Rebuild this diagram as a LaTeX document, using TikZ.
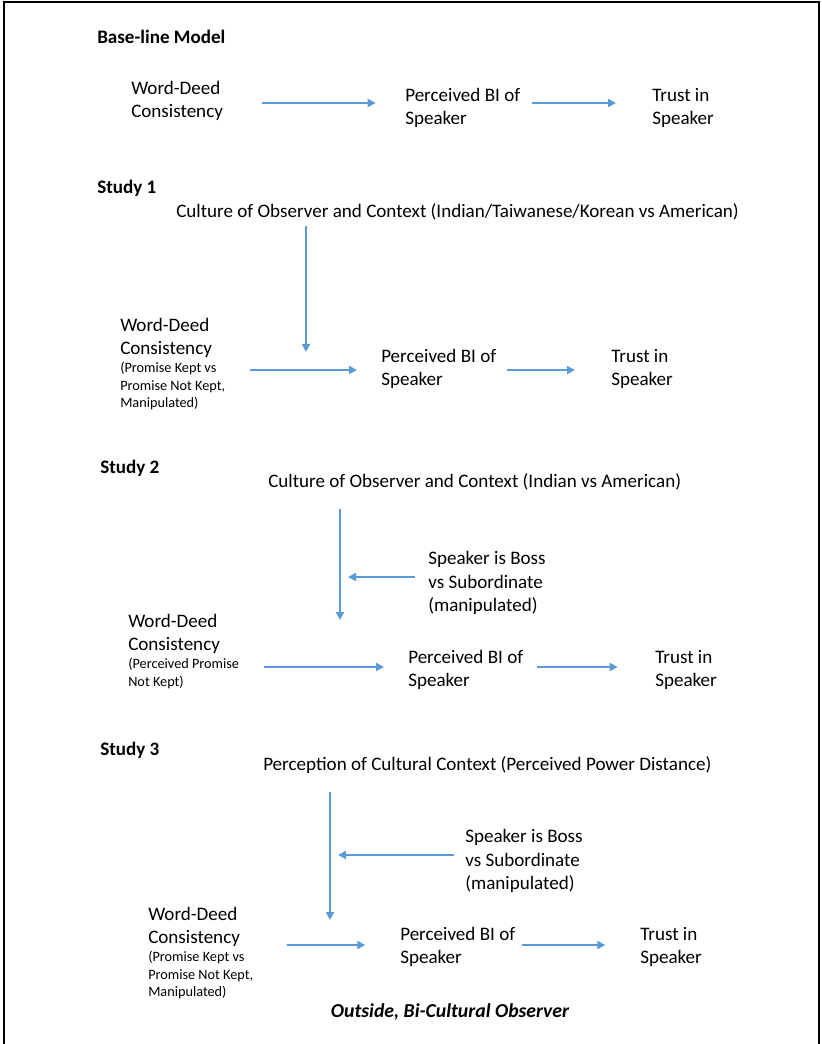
\documentclass[tikz,border=0pt]{standalone}
\usepackage{fontspec}
\setmainfont{Carlito}
\usetikzlibrary{arrows.meta,positioning}
\definecolor{arrblue}{RGB}{91,155,213}

\begin{document}
\begin{tikzpicture}[x=0.75pt, y=-0.75pt,
    lbl/.style={inner sep=0pt, anchor=west, align=left, font=\fontsize{14.3}{17.5}\selectfont},
    note/.style={inner sep=0pt, anchor=north west, align=left, font=\fontsize{10.7}{13.2}\selectfont},
    head/.style={inner sep=0pt, anchor=west, font=\bfseries\fontsize{14.3}{17}\selectfont},
    arr/.style={draw=arrblue, line width=1.6pt, -{Triangle[length=6pt,width=6pt]}}]

    \useasboundingbox (0,0) rectangle (821,1044);

    % Frame
    \draw[line width=1.5pt] (4,1044) -- (4,2) -- (819,2) -- (819,1044);

    % Base-line model
    \node[head] (base) at (97,37) {Base-line Model};
    \node[lbl] (wd0) at (131,101) {Word-Deed\\Consistency};
    \node[lbl] (pb0) at (405,108) {Perceived BI of\\Speaker};
    \node[lbl] (tr0) at (652,108) {Trust in\\Speaker};
    \coordinate (r0) at (0,103);
    \draw[arr, shorten <=29pt, shorten >=22pt] (wd0.east |- r0) -- (pb0.west |- r0);
    \draw[arr, shorten <=9pt, shorten >=27pt] (pb0.east |- r0) -- (tr0.west |- r0);

    % Study 1
    \node[head] (st1) at (97,188) {Study 1};
    \node[lbl] (cu1) at (176,212) {Culture of Observer and Context (Indian/Taiwanese/Korean vs American)};
    \node[lbl] (wd1) at (120,338) {Word-Deed\\Consistency};
    \node[note, below=3pt of wd1.south west, anchor=north west] (wn1) {(Promise Kept vs\\Promise Not Kept,\\Manipulated)};
    \node[lbl] (pb1) at (381,369) {Perceived BI of\\Speaker};
    \node[lbl] (tr1) at (611,369) {Trust in\\Speaker};
    \coordinate (v1) at (306,352);
    \coordinate (r1) at (0,370);
    \draw[arr, shorten <=4pt] (cu1.south -| v1) -- (v1);
    \draw[arr, shorten <=28pt, shorten >=18pt] (wd1.east |- r1) -- (pb1.west |- r1);
    \draw[arr, shorten <=8pt, shorten >=27pt] (pb1.east |- r1) -- (tr1.west |- r1);

    % Study 2
    \node[head] (st2) at (100,468) {Study 2};
    \node[lbl] (cu2) at (268,482) {Culture of Observer and Context (Indian vs American)};
    \node[lbl] (bs2) at (428,583) {Speaker is Boss\\vs Subordinate\\(manipulated)};
    \node[lbl] (wd2) at (128,634) {Word-Deed\\Consistency};
    \node[note, below=3pt of wd2.south west, anchor=north west] (wn2) {(Perceived Promise\\Not Kept)};
    \node[lbl] (pb2) at (408,670) {Perceived BI of\\Speaker};
    \node[lbl] (tr2) at (655,670) {Trust in\\Speaker};
    \coordinate (v2) at (340,620);
    \coordinate (r2) at (0,667);
    \coordinate (m2) at (0,577);
    \draw[arr, shorten <=14pt] (cu2.south -| v2) -- (v2);
    \draw[arr, shorten <=10pt, shorten >=6pt] (bs2.west |- m2) -- (v2 |- m2);
    \draw[arr, shorten <=33pt, shorten >=18pt] (wd2.east |- r2) -- (pb2.west |- r2);
    \draw[arr, shorten <=10pt, shorten >=28pt] (pb2.east |- r2) -- (tr2.west |- r2);

    % Study 3
    \node[head] (st3) at (100,750) {Study 3};
    \node[lbl] (cu3) at (263,765) {Perception of Cultural Context (Perceived Power Distance)};
    \node[lbl] (bs3) at (465,861) {Speaker is Boss\\vs Subordinate\\(manipulated)};
    \node[lbl] (wd3) at (148,927) {Word-Deed\\Consistency};
    \node[note, below=3pt of wd3.south west, anchor=north west] (wn3) {(Promise Kept vs\\Promise Not Kept,\\Manipulated)};
    \node[lbl] (pb3) at (400,947) {Perceived BI of\\Speaker};
    \node[lbl] (tr3) at (640,947) {Trust in\\Speaker};
    \coordinate (v3) at (330,920);
    \coordinate (r3) at (0,945);
    \coordinate (m3) at (0,855);
    \draw[arr, shorten <=14pt] (cu3.south -| v3) -- (v3);
    \draw[arr, shorten <=8pt, shorten >=6pt] (bs3.west |- m3) -- (v3 |- m3);
    \draw[arr, shorten <=35pt, shorten >=26pt] (wd3.east |- r3) -- (pb3.west |- r3);
    \draw[arr, shorten <=5pt, shorten >=26pt] (pb3.east |- r3) -- (tr3.west |- r3);
    \node[font=\bfseries\itshape\fontsize{14.8}{17}\selectfont] (obs) at (450,1012) {Outside, Bi-Cultural Observer};

\end{tikzpicture}
\end{document}
